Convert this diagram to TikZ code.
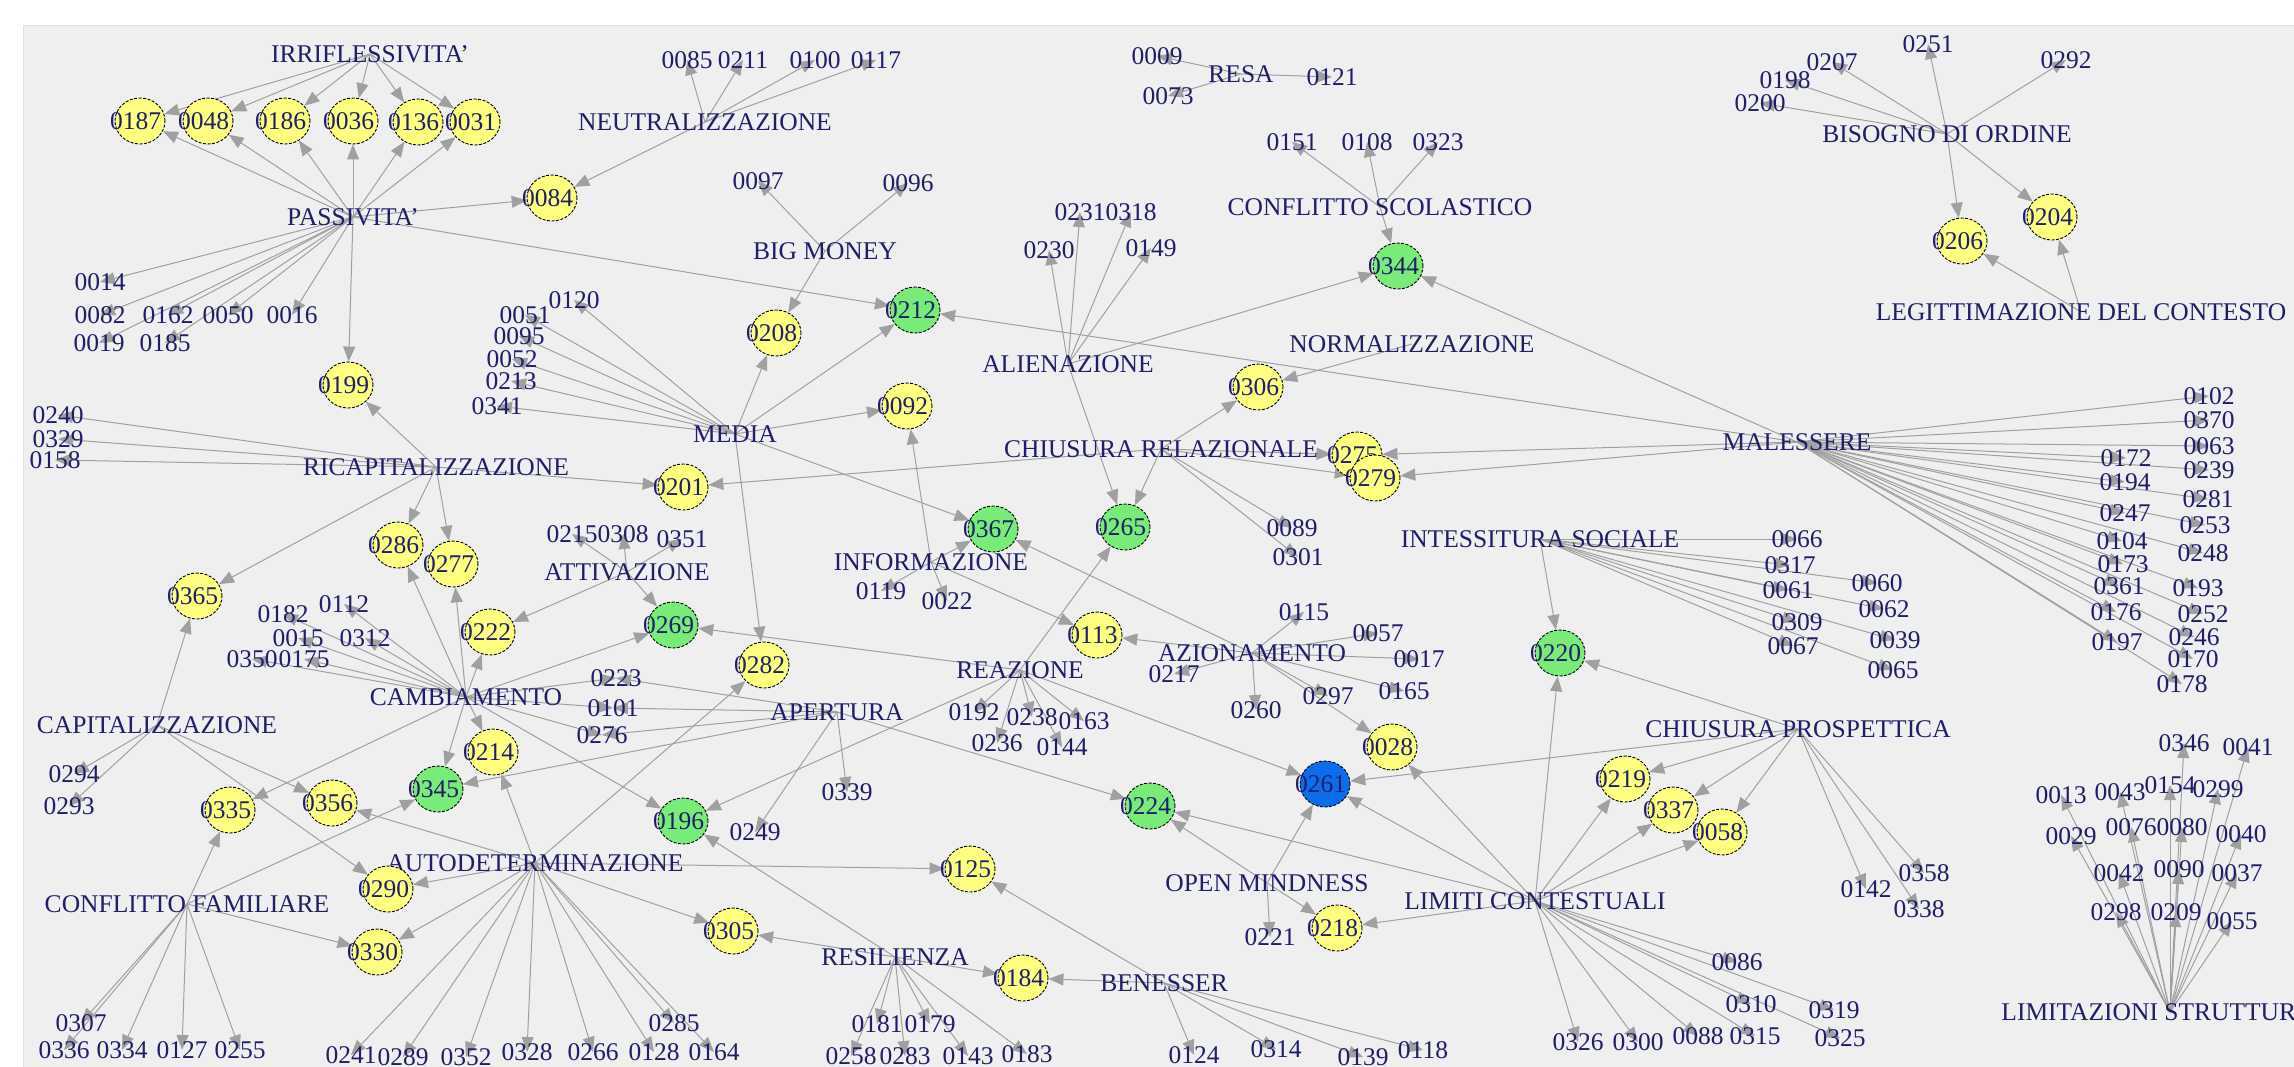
\documentclass[tikz,border=0pt]{standalone}
\usepackage{fontspec}
\setmainfont{Liberation Serif}
\usetikzlibrary{arrows.meta,shapes.geometric}
\pgfdeclarelayer{bg}
\pgfdeclarelayer{edges}
\pgfsetlayers{bg,edges,main}
\definecolor{txt}{RGB}{30,30,105}
\definecolor{edg}{RGB}{160,160,160}
\definecolor{panel}{RGB}{239,239,239}
\definecolor{yfill}{RGB}{255,255,128}
\definecolor{gfill}{RGB}{120,235,120}
\definecolor{bfill}{RGB}{10,110,235}
\tikzset{
 base/.style={font=\fontsize{25.5}{30}\selectfont, text=txt, inner sep=0pt},
 num/.style={base},
 lab/.style={base},
 circ/.style={base, ellipse, draw=black, line width=0.9pt, dash pattern=on 3pt off 1.5pt, minimum width=50pt, minimum height=46pt},
 yel/.style={circ, fill=yfill},
 grn/.style={circ, fill=gfill},
 blu/.style={circ, fill=bfill},
 ed/.style={draw=edg, line width=1pt, -{Triangle[length=15pt,width=12pt]}}
}
\newcommand\mkY[3]{\node[yel] (n#1) at (#2,#3) {\makebox[0pt]{#1\hspace{9pt}}};}
\newcommand\mkG[3]{\node[grn] (n#1) at (#2,#3) {\makebox[0pt]{#1\hspace{9pt}}};}
\newcommand\mkB[3]{\node[blu] (n#1) at (#2,#3) {\makebox[0pt]{#1\hspace{9pt}}};}
\newcommand\mkT[3]{\node[num] (n#1) at (#2,#3) {#1};}
\newcommand\arE[2]{\foreach \tg in {#2}{\draw[ed] (#1.center) -- (n\tg);}}
\newcommand\arT[2]{\foreach \tg in {#2}{\draw[ed] (#1.center) -- (n\tg.center);}}
\begin{document}
\begin{tikzpicture}[x=1pt,y=-1pt]
\useasboundingbox (0,0) rectangle (2294,1067);
\begin{pgfonlayer}{bg}
\fill[white] (0,0) rectangle (2294,1067);
\fill[panel] (23,25) rectangle (2294,1067);
\draw[black!12] (23,1067) -- (23,25) -- (2294,25);
\end{pgfonlayer}
% ---------- labels ----------
\node[lab] (IRR) at (370,54) {IRRIFLESSIVITA'};
\node[lab] (PASS) at (353,217) {PASSIVITA'};
\node[lab] (NEUT) at (705,122) {NEUTRALIZZAZIONE};
\node[lab] (BIG) at (825,251) {BIG MONEY};
\node[lab] (MEDIA) at (735,434) {MEDIA};
\node[lab] (RICAP) at (436,467) {RICAPITALIZZAZIONE};
\node[lab] (ATTIV) at (627,572) {ATTIVAZIONE};
\node[lab] (CAMB) at (466,697) {CAMBIAMENTO};
\node[lab] (CAPIT) at (157,725) {CAPITALIZZAZIONE};
\node[lab] (APERT) at (837,712) {APERTURA};
\node[lab] (INFO) at (931,562) {INFORMAZIONE};
\node[lab] (REAZ) at (1020,670) {REAZIONE};
\node[lab] (AUTOD) at (535,863) {AUTODETERMINAZIONE};
\node[lab] (CONFF) at (187,904) {CONFLITTO FAMILIARE};
\node[lab] (RESIL) at (895,957) {RESILIENZA};
\node[lab] (BENES) at (1164,983) {BENESSER};
\node[lab] (OPEN) at (1267,883) {OPEN MINDNESS};
\node[lab] (AZION) at (1252,653) {AZIONAMENTO};
\node[lab] (ALIEN) at (1068,364) {ALIENAZIONE};
\node[lab] (CHIUR) at (1161,449) {CHIUSURA RELAZIONALE};
\node[lab] (RESA) at (1241,74) {RESA};
\node[lab] (CONFS) at (1380,207) {CONFLITTO SCOLASTICO};
\node[lab] (NORM) at (1412,344) {NORMALIZZAZIONE};
\node[lab] (INTES) at (1540,539) {INTESSITURA SOCIALE};
\node[lab] (CHIUP) at (1798,729) {CHIUSURA PROSPETTICA};
\node[lab] (LIMC) at (1535,901) {LIMITI CONTESTUALI};
\node[lab] (BISO) at (1947,134) {BISOGNO DI ORDINE};
\node[lab] (LEGIT) at (2081,312) {LEGITTIMAZIONE DEL CONTESTO};
\node[lab] (MALES) at (1797,442) {MALESSERE};
\node[lab] (LIMS) at (2170,1012) {LIMITAZIONI STRUTTURALI};
% ---------- ellipse nodes ----------
\mkY{0187}{140}{121}\mkY{0048}{208}{121}\mkY{0186}{285}{121}\mkY{0036}{353}{121}
\mkY{0136}{418}{122}\mkY{0031}{475}{122}
\mkY{0084}{552}{198}\mkY{0199}{348}{385}\mkY{0208}{776}{333}\mkY{0092}{907}{406}
\mkY{0201}{683}{487}\mkY{0306}{1258}{387}\mkY{0275}{1357}{455}\mkY{0279}{1375}{478}
\mkY{0206}{1962}{241}\mkY{0204}{2052}{217}\mkY{0286}{398}{545}\mkY{0277}{453}{564}
\mkY{0365}{197}{596}\mkY{0222}{490}{632}\mkY{0282}{764}{665}\mkY{0113}{1097}{635}
\mkY{0028}{1392}{747}\mkY{0214}{493}{752}\mkY{0356}{332}{803}\mkY{0335}{230}{810}
\mkY{0219}{1625}{779}\mkY{0337}{1673}{810}\mkY{0058}{1722}{832}\mkY{0290}{388}{889}
\mkY{0330}{377}{952}\mkY{0125}{970}{869}\mkY{0305}{733}{931}\mkY{0184}{1023}{978}
\mkY{0218}{1337}{928}
\mkG{0212}{915}{310}\mkG{0344}{1398}{266}\mkG{0367}{993}{529}\mkG{0265}{1125}{527}
\mkG{0269}{673}{625}\mkG{0345}{438}{789}\mkG{0196}{683}{821}\mkG{0224}{1150}{806}
\mkG{0220}{1560}{653}
\mkB{0261}{1325}{784}
% ---------- number nodes ----------
\mkT{0014}{100}{282}\mkT{0082}{100}{315}\mkT{0162}{168}{315}\mkT{0050}{228}{315}
\mkT{0016}{292}{315}\mkT{0019}{99}{343}\mkT{0185}{165}{343}
\mkT{0240}{58}{415}\mkT{0329}{58}{439}\mkT{0158}{55}{460}
\mkT{0085}{687}{60}\mkT{0211}{743}{60}\mkT{0100}{815}{60}\mkT{0117}{876}{60}
\mkT{0097}{758}{181}\mkT{0096}{908}{183}
\mkT{0120}{574}{300}\mkT{0051}{525}{315}\mkT{0095}{519}{336}\mkT{0052}{512}{359}
\mkT{0213}{511}{381}\mkT{0341}{497}{406}
\mkT{0230}{1049}{250}\mkT{0231}{1080}{212}\mkT{0318}{1131}{212}\mkT{0149}{1151}{248}
\mkT{0009}{1157}{56}\mkT{0073}{1168}{96}\mkT{0121}{1332}{77}
\mkT{0151}{1292}{142}\mkT{0108}{1367}{142}\mkT{0323}{1438}{142}
\mkT{0207}{1832}{62}\mkT{0198}{1785}{80}\mkT{0200}{1760}{103}\mkT{0251}{1928}{44}\mkT{0292}{2066}{60}
\mkT{0089}{1292}{528}\mkT{0301}{1298}{557}
\mkT{0102}{2209}{396}\mkT{0370}{2209}{420}\mkT{0063}{2209}{446}\mkT{0172}{2126}{458}
\mkT{0239}{2209}{470}\mkT{0194}{2125}{482}\mkT{0281}{2208}{499}\mkT{0247}{2125}{513}
\mkT{0253}{2205}{525}\mkT{0104}{2122}{541}\mkT{0248}{2203}{553}\mkT{0173}{2123}{564}
\mkT{0193}{2198}{588}\mkT{0361}{2119}{586}\mkT{0176}{2116}{612}\mkT{0252}{2203}{614}
\mkT{0246}{2194}{637}\mkT{0197}{2117}{642}\mkT{0170}{2193}{659}\mkT{0178}{2182}{684}
\mkT{0066}{1797}{539}\mkT{0317}{1790}{565}\mkT{0060}{1877}{583}\mkT{0061}{1788}{590}
\mkT{0062}{1884}{609}\mkT{0309}{1797}{622}\mkT{0039}{1895}{640}\mkT{0067}{1793}{646}
\mkT{0065}{1893}{670}
\mkT{0215}{572}{534}\mkT{0308}{623}{534}\mkT{0351}{682}{539}
\mkT{0182}{283}{614}\mkT{0112}{344}{604}\mkT{0015}{298}{638}\mkT{0312}{365}{638}
\mkT{0350}{252}{659}\mkT{0175}{304}{659}
\mkT{0223}{616}{678}\mkT{0101}{613}{708}\mkT{0276}{602}{735}
\mkT{0119}{881}{591}\mkT{0022}{947}{601}
\mkT{0192}{974}{712}\mkT{0238}{1032}{717}\mkT{0163}{1084}{721}\mkT{0236}{997}{743}\mkT{0144}{1062}{747}
\mkT{0339}{847}{792}\mkT{0249}{755}{832}
\mkT{0115}{1304}{612}\mkT{0057}{1378}{633}\mkT{0017}{1419}{659}\mkT{0165}{1404}{691}
\mkT{0297}{1328}{696}\mkT{0260}{1256}{710}\mkT{0217}{1174}{674}
\mkT{0294}{74}{774}\mkT{0293}{69}{806}
\mkT{0307}{81}{1023}\mkT{0336}{64}{1050}\mkT{0334}{122}{1050}\mkT{0127}{182}{1050}\mkT{0255}{240}{1050}
\mkT{0241}{351}{1055}\mkT{0289}{403}{1057}\mkT{0352}{466}{1057}\mkT{0328}{527}{1052}
\mkT{0266}{593}{1052}\mkT{0128}{654}{1052}\mkT{0164}{714}{1052}\mkT{0285}{674}{1023}
\mkT{0181}{877}{1024}\mkT{0179}{930}{1024}\mkT{0258}{851}{1056}\mkT{0283}{905}{1056}
\mkT{0143}{968}{1056}\mkT{0183}{1027}{1054}
\mkT{0124}{1194}{1055}\mkT{0314}{1276}{1049}\mkT{0139}{1363}{1057}\mkT{0118}{1423}{1050}
\mkT{0221}{1270}{937}
\mkT{0142}{1866}{889}\mkT{0358}{1924}{873}\mkT{0338}{1919}{909}
\mkT{0086}{1737}{962}\mkT{0310}{1751}{1004}\mkT{0319}{1834}{1010}\mkT{0315}{1755}{1036}
\mkT{0325}{1840}{1038}\mkT{0088}{1698}{1036}\mkT{0300}{1638}{1042}\mkT{0326}{1578}{1042}
\mkT{0346}{2184}{743}\mkT{0041}{2248}{747}\mkT{0013}{2061}{795}\mkT{0043}{2120}{792}
\mkT{0154}{2170}{785}\mkT{0299}{2218}{789}\mkT{0029}{2071}{836}\mkT{0076}{2131}{827}
\mkT{0080}{2182}{827}\mkT{0040}{2241}{834}\mkT{0042}{2119}{873}\mkT{0090}{2179}{869}
\mkT{0037}{2237}{873}\mkT{0298}{2116}{912}\mkT{0209}{2176}{912}\mkT{0055}{2232}{921}
% ---------- edges ----------
\begin{pgfonlayer}{edges}
\arE{IRR}{0187,0048,0186,0036,0136,0031}
\arE{PASS}{0187,0048,0186,0036,0136,0031,0084,0199,0212}
\arT{PASS}{0014,0082,0162,0050,0016,0019,0185}
\arE{NEUT}{0084}\arT{NEUT}{0085,0211,0100,0117}
\arE{BIG}{0208}\arT{BIG}{0097,0096}
\arE{MEDIA}{0208,0212,0092,0367,0282}\arT{MEDIA}{0120,0051,0095,0052,0213,0341}
\arE{RICAP}{0199,0201,0286,0277,0365}\arT{RICAP}{0240,0329,0158}
\arE{ALIEN}{0265,0344}\arT{ALIEN}{0230,0231,0318,0149}
\arT{RESA}{0009,0073,0121}
\arE{CONFS}{0344}\arT{CONFS}{0151,0108,0323}
\arE{NORM}{0306}
\arE{CHIUR}{0306,0275,0279,0265,0201}\arT{CHIUR}{0089,0301}
\arE{BISO}{0206,0204}\arT{BISO}{0207,0198,0200,0251,0292}
\arE{LEGIT}{0206,0204}
\arE{MALES}{0212,0344,0275,0279}
\arT{MALES}{0102,0370,0063,0172,0239,0194,0281,0247,0253,0104,0248,0173,0193,0361,0176,0252,0246,0197,0170,0178}
\arE{INTES}{0220}\arT{INTES}{0066,0317,0060,0061,0062,0309,0039,0067,0065}
\arE{ATTIV}{0222,0269}\arT{ATTIV}{0215,0308,0351}
\arE{CAMB}{0286,0277,0222,0269,0214,0345,0196,0335}\arT{CAMB}{0182,0112,0015,0312,0350,0175,0223,0101,0276}
\arE{INFO}{0367,0113,0092}\arT{INFO}{0119,0022}
\arE{REAZ}{0265,0269,0196,0261}\arT{REAZ}{0192,0238,0163,0236,0144}
\arE{APERT}{0345,0224}\arT{APERT}{0223,0101,0276,0339,0249}
\arE{AZION}{0367,0113,0028}\arT{AZION}{0115,0057,0017,0165,0297,0260,0217}
\arE{CAPIT}{0365,0356,0290}\arT{CAPIT}{0294,0293}
\arE{CONFF}{0335,0345,0330}\arT{CONFF}{0307,0336,0334,0127,0255}
\arE{AUTOD}{0290,0330,0214,0282,0305,0125,0356}\arT{AUTOD}{0241,0289,0352,0328,0266,0128,0164,0285}
\arE{RESIL}{0305,0184,0196}\arT{RESIL}{0181,0179,0258,0283,0143,0183}
\arE{BENES}{0184,0125}\arT{BENES}{0124,0314,0139,0118}
\arE{OPEN}{0261,0224,0218}\arT{OPEN}{0221}
\arE{LIMC}{0220,0219,0337,0058,0028,0261,0224,0218}\arT{LIMC}{0086,0310,0319,0315,0325,0088,0300,0326}
\arE{CHIUP}{0220,0261,0219,0337,0058}\arT{CHIUP}{0142,0358,0338}
\arT{LIMS}{0346,0041,0013,0043,0154,0299,0029,0076,0080,0040,0042,0090,0037,0298,0209,0055}
\end{pgfonlayer}
\end{tikzpicture}
\end{document}
